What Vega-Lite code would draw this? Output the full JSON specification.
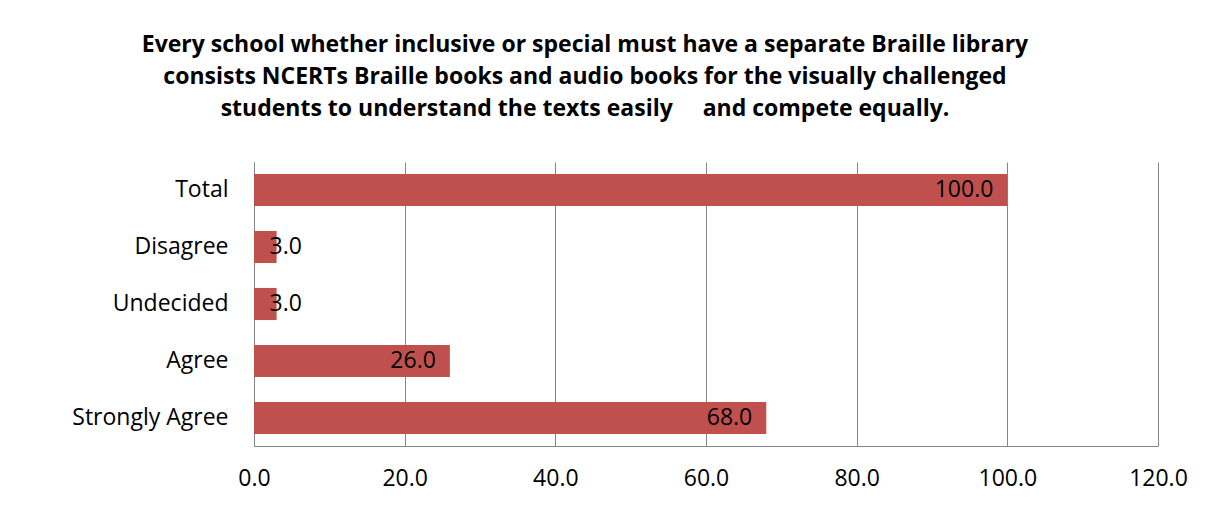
{
  "$schema": "https://vega.github.io/schema/vega-lite/v6.json",
  "width": 904,
  "height": 284,
  "autosize": {"type": "none"},
  "padding": {"left": 254, "top": 162, "right": 57, "bottom": 60},
  "background": "white",
  "title": {
    "text": [
      "Every school whether inclusive or special must have a separate Braille library",
      "consists NCERTs Braille books and audio books for the visually challenged",
      "students to understand the texts easily \u00a0\u00a0\u00a0\u00a0and compete equally."
    ],
    "anchor": "middle",
    "dx": -121,
    "offset": 41,
    "font": "Open Sans",
    "fontSize": 23,
    "fontWeight": "bold",
    "color": "#000000",
    "lineHeight": 32
  },
  "data": {
    "values": [
      {"response": "Total", "percent": 100.0},
      {"response": "Disagree", "percent": 3.0},
      {"response": "Undecided", "percent": 3.0},
      {"response": "Agree", "percent": 26.0},
      {"response": "Strongly Agree", "percent": 68.0}
    ]
  },
  "encoding": {
    "y": {
      "field": "response",
      "type": "nominal",
      "sort": ["Total", "Disagree", "Undecided", "Agree", "Strongly Agree"],
      "scale": {"paddingInner": 0.437, "paddingOuter": 0.21},
      "axis": {
        "title": null,
        "ticks": false,
        "labelPadding": 26,
        "labelFont": "Open Sans",
        "labelFontSize": 23,
        "labelColor": "#000000",
        "domainColor": "#868686",
        "domainWidth": 1
      }
    },
    "x": {
      "field": "percent",
      "type": "quantitative",
      "scale": {"domain": [0, 120], "nice": false},
      "axis": {
        "title": null,
        "values": [0, 20, 40, 60, 80, 100, 120],
        "format": ".1f",
        "ticks": false,
        "labelPadding": 21,
        "labelFont": "Open Sans",
        "labelFontSize": 23,
        "labelColor": "#000000",
        "domainColor": "#868686",
        "gridColor": "#868686",
        "grid": true,
        "labelFlush": false
      }
    }
  },
  "layer": [
    {
      "mark": {"type": "bar", "color": "#C0504D"}
    },
    {
      "transform": [{"filter": "datum.percent >= 10"}],
      "mark": {"type": "text", "align": "right", "baseline": "middle", "dx": -14, "font": "Open Sans", "fontSize": 23, "color": "#000000"},
      "encoding": {"text": {"field": "percent", "type": "quantitative", "format": ".1f"}}
    },
    {
      "transform": [{"filter": "datum.percent < 10"}],
      "mark": {"type": "text", "align": "left", "baseline": "middle", "dx": -7, "font": "Open Sans", "fontSize": 23, "color": "#000000"},
      "encoding": {"text": {"field": "percent", "type": "quantitative", "format": ".1f"}}
    }
  ],
  "config": {"view": {"stroke": null}}
}
